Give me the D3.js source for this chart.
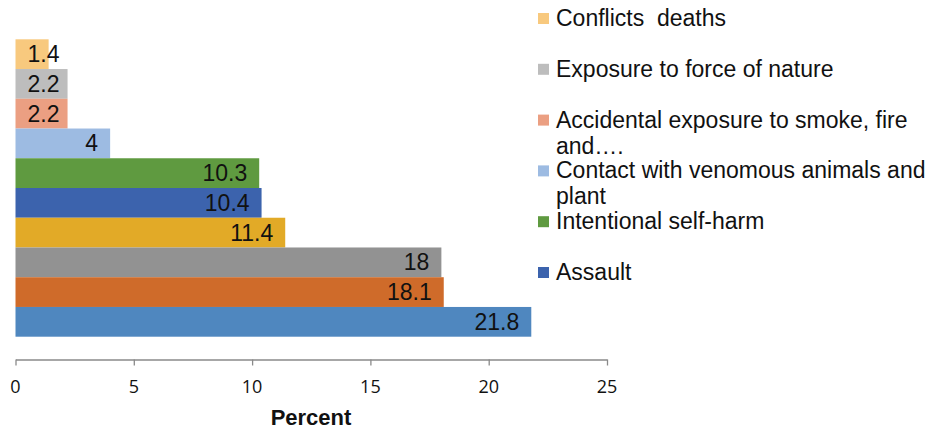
<!DOCTYPE html>
<html lang="en">
<head>
    <meta charset="UTF-8">
    <title>Causes of injury deaths</title>
    <script src="https://d3js.org/d3.v7.min.js"></script>
    <style>
        body { margin: 0; background: #fff; }
        text { font-family: "Liberation Sans", Arial, sans-serif; }
    </style>
</head>
<body>
    <svg id="chart" width="926" height="430"></svg>

    <script>
        // values top to bottom, as drawn
        const values = [1.4, 2.2, 2.2, 4, 10.3, 10.4, 11.4, 18, 18.1, 21.8];
        const barColors = ["#f8c97e", "#bdbdbd", "#eb9f82", "#9dbbe2", "#5f9a40", "#3c63ad",
                           "#e2aa27", "#929292", "#cf6b2a", "#4f87bf"];
        // the legend in the source only shows the first six entries
        const legendNames = ["Conflicts  deaths", "Exposure to force of nature",
                             "Accidental exposure to smoke, fire and….",
                             "Contact with venomous animals and plant",
                             "Intentional self-harm", "Assault"];
        const xTicks = [0, 5, 10, 15, 20, 25];

        const svg = d3.select("#chart");

        const x = d3.scaleLinear().domain([0, 25]).range([15.5, 607]);
        const y = d3.scaleBand()
            .domain(d3.range(values.length))
            .range([39.3, 336.7])
            .padding(0);

        // bars
        svg.append("g").selectAll("rect")
            .data(values)
            .enter().append("rect")
            .attr("x", x(0))
            .attr("y", (d, i) => y(i))
            .attr("width", d => x(d) - x(0))
            .attr("height", y.bandwidth())
            .attr("fill", (d, i) => barColors[i]);

        // value labels, inside end; pushed right when the bar is too short
        svg.append("g").selectAll("text")
            .data(values)
            .enter().append("text")
            .attr("y", (d, i) => y(i) + y.bandwidth() / 2 + 8)
            .attr("text-anchor", "end")
            .attr("font-size", 23)
            .attr("fill", "#111")
            .text(d => d)
            .each(function(d) {
                const w = this.getComputedTextLength();
                const right = Math.max(x(d) - 12, x(0) + 12 + w);
                d3.select(this).attr("x", right);
            });

        // x axis: line and ticks from d3, labels drawn separately
        const axis = svg.append("g")
            .attr("transform", "translate(0,359.5)")
            .call(d3.axisBottom(x).tickValues(xTicks).tickSize(6).tickSizeOuter(0).tickFormat(""));
        axis.select(".domain").attr("stroke", "#8a8a8a").attr("stroke-width", 1.3);
        axis.selectAll(".tick line").attr("stroke", "#8a8a8a").attr("stroke-width", 1.3);

        svg.append("g").selectAll("text")
            .data(xTicks)
            .enter().append("text")
            .attr("x", d => x(d))
            .attr("y", 393)
            .attr("text-anchor", "middle")
            .style("font-family", "'Open Sans', sans-serif")
            .style("font-size", "18px")
            .attr("fill", "#111")
            .text(d => d);

        svg.append("text")
            .attr("x", 311)
            .attr("y", 425)
            .attr("text-anchor", "middle")
            .attr("font-size", 22)
            .attr("font-weight", "bold")
            .attr("fill", "#111")
            .text("Percent");

        // legend
        const ly = d3.scalePoint().domain(d3.range(legendNames.length)).range([26, 280]);
        const legend = svg.append("g").selectAll("g")
            .data(legendNames)
            .enter().append("g")
            .attr("transform", (d, i) => `translate(538,${ly(i)})`);

        legend.append("rect")
            .attr("x", 0)
            .attr("y", -13)
            .attr("width", 11)
            .attr("height", 11)
            .attr("fill", (d, i) => barColors[i]);

        legend.append("text")
            .attr("x", 18)
            .attr("font-size", 23)
            .attr("fill", "#111")
            .style("white-space", "pre")
            .each(function(name) {
                const t = d3.select(this);
                const words = name.split(" ");
                let line = [];
                let tspan = t.append("tspan").attr("x", 18).attr("dy", 0);
                words.forEach(w => {
                    line.push(w);
                    tspan.text(line.join(" "));
                    if (tspan.node().getComputedTextLength() > 378 && line.length > 1) {
                        line.pop();
                        tspan.text(line.join(" "));
                        line = [w];
                        tspan = t.append("tspan").attr("x", 18).attr("dy", 26).text(w);
                    }
                });
            });
    </script>
</body>
</html>
